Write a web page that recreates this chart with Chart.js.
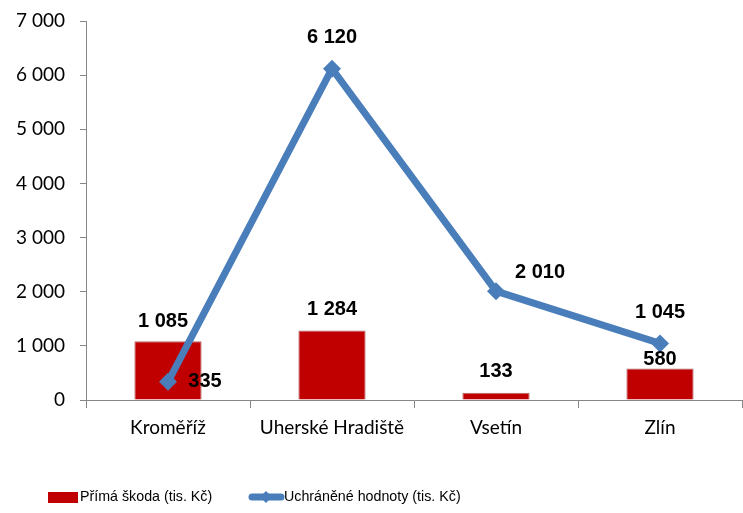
<!DOCTYPE html>
<html>
<head>
<meta charset="utf-8">
<script src="https://cdn.jsdelivr.net/npm/chart.js@4/dist/chart.umd.min.js"></script>
<style>
  html, body { margin: 0; padding: 0; background: #fff; }
  #wrap { width: 743px; height: 513px; }
</style>
</head>
<body>
<div id="wrap"><canvas id="chart" width="743" height="513"></canvas></div>
<script>
const categories = ['Kroměříž', 'Uherské Hradiště', 'Vsetín', 'Zlín'];
const primaSkoda = [1085, 1284, 133, 580];
const uchraneneHodnoty = [335, 6120, 2010, 1045];
const yTicks = [0, 1000, 2000, 3000, 4000, 5000, 6000, 7000];

const seriesNames = ['Přímá škoda (tis. Kč)', 'Uchráněné hodnoty (tis. Kč)'];

const RED = '#C00000';
const BLUE = '#4A7EBB';
const AXIS = '#868686';

const fmt = v => String(v).replace(/\B(?=(\d{3})+(?!\d))/g, ' ');

// label offsets (dx, dy) from the mark, per dataset
const labelShift = [
  [[-5, -20], [0, -21], [0, -21], [0, -9]],
  [[37, 0], [0, -31], [44, -19], [0, -31]],
];

const valueLabels = {
  id: 'valueLabels',
  afterDatasetsDraw(chart) {
    const ctx = chart.ctx;
    ctx.save();
    ctx.font = 'bold 20px "Liberation Sans", Arial, sans-serif';
    ctx.fillStyle = '#000';
    ctx.textAlign = 'center';
    ctx.textBaseline = 'middle';
    chart.data.datasets.forEach((ds, i) => {
      const meta = chart.getDatasetMeta(i);
      meta.data.forEach((el, j) => {
        const [dx, dy] = labelShift[i][j];
        ctx.fillText(fmt(ds.data[j]), el.x + dx, el.y + dy);
      });
    });
    ctx.restore();
  }
};

const bottomLegend = {
  id: 'bottomLegend',
  afterDraw(chart) {
    const ctx = chart.ctx;
    const y = 497;
    ctx.save();
    ctx.fillStyle = RED;
    ctx.fillRect(48, y - 5, 30, 11);
    ctx.strokeStyle = BLUE;
    ctx.lineWidth = 7;
    ctx.lineCap = 'round';
    ctx.beginPath();
    ctx.moveTo(252, y);
    ctx.lineTo(281, y);
    ctx.stroke();
    ctx.fillStyle = BLUE;
    ctx.beginPath();
    ctx.moveTo(266, y - 6);
    ctx.lineTo(272, y);
    ctx.lineTo(266, y + 6);
    ctx.lineTo(260, y);
    ctx.closePath();
    ctx.fill();
    ctx.font = '15px "Liberation Sans", Arial, sans-serif';
    ctx.textBaseline = 'middle';
    ctx.textAlign = 'left';
    ctx.fillStyle = '#000';
    [[80, seriesNames[0]], [284, seriesNames[1]]].forEach(([x, t]) => {
      ctx.save();
      ctx.translate(x, y);
      ctx.scale(0.95, 1);
      ctx.fillText(t, 0, 0);
      ctx.restore();
    });
    ctx.restore();
  }
};

new Chart(document.getElementById('chart'), {
  type: 'bar',
  data: {
    labels: categories,
    datasets: [
      {
        type: 'bar',
        label: seriesNames[0],
        data: primaSkoda,
        backgroundColor: RED,
        borderColor: '#B06A6A',
        borderWidth: 1,
        barPercentage: 0.41,
        categoryPercentage: 1,
        order: 1,
      },
      {
        type: 'line',
        label: seriesNames[1],
        data: uchraneneHodnoty,
        borderColor: BLUE,
        backgroundColor: BLUE,
        borderWidth: 7,
        tension: 0,
        pointStyle: 'rectRot',
        pointRadius: 9,
        pointBackgroundColor: BLUE,
        pointBorderColor: BLUE,
        pointBorderWidth: 0,
        clip: false,
        order: 0,
      },
    ],
  },
  options: {
    responsive: false,
    animation: false,
    layout: { autoPadding: false, padding: { left: 0, right: 1, top: 21, bottom: 73 } },
    plugins: {
      legend: { display: false },
      tooltip: { enabled: false },
    },
    scales: {
      x: {
        offset: true,
        grid: { offset: true, drawOnChartArea: false, drawTicks: true, tickLength: 8, color: AXIS },
        border: { color: AXIS, width: 1 },
        ticks: { font: { family: 'Lato', size: 19 }, color: '#000', padding: 8, maxRotation: 0 },
        afterFit(scale) {
          scale.height = 40;
          scale.paddingLeft = 0;
          scale.paddingRight = 0;
        },
      },
      y: {
        min: 0,
        max: 7000,
        afterBuildTicks(scale) { scale.ticks = yTicks.map(v => ({ value: v })); },
        grid: { drawOnChartArea: false, drawTicks: true, tickLength: 6, color: AXIS },
        border: { color: AXIS, width: 1 },
        ticks: { font: { family: 'Lato', size: 19 }, color: '#000', padding: 15, callback: v => fmt(v) },
        afterFit(scale) {
          scale.width = 86;
          scale.paddingTop = 0;
          scale.paddingBottom = 0;
        },
      },
    },
  },
  plugins: [valueLabels, bottomLegend],
});
</script>
</body>
</html>
